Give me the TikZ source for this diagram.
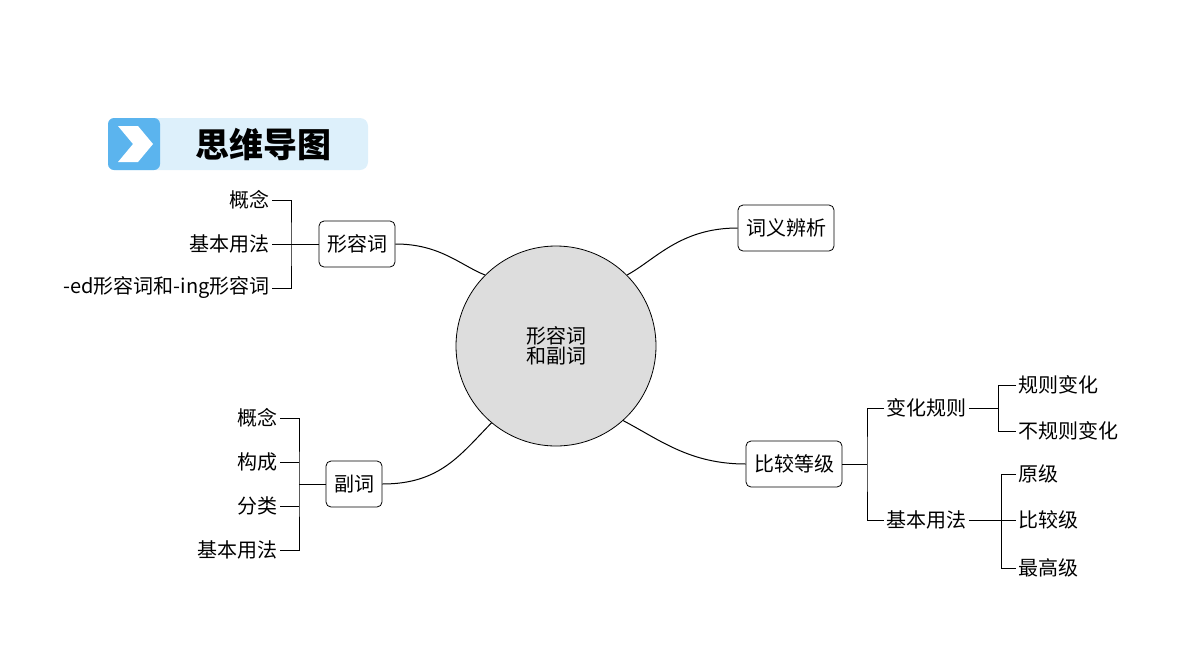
\documentclass[tikz,border=0pt]{standalone}
\usepackage{fontspec}
\setmainfont{Noto Sans CJK SC}
\usepackage{tikz}
\usetikzlibrary{positioning}
\definecolor{badge}{HTML}{DDF0FB}
\definecolor{badgeblue}{HTML}{5BB4EE}
\begin{document}
\begin{tikzpicture}[x=1pt,y=-1pt,thick,
  main node/.style={draw,rounded corners=5pt,fill=white,minimum height=46pt,inner xsep=8pt,font=\fontsize{20}{24}\selectfont},
  leaf/.style={font=\fontsize{20}{24}\selectfont,inner sep=2pt},
  wire/.style={draw,line width=1pt}]
 \useasboundingbox (0,0) rectangle (1200,670);

 % title badge
 \fill[badge,rounded corners=8pt] (108,118) rectangle (368,170);
 \fill[badgeblue,rounded corners=6pt] (108,118) rectangle (160,170);
 \fill[white] (118,126) -- (138,126) -- (153,144) -- (138,162) -- (118,162) -- (133,144) -- cycle;
 \node[font=\fontsize{34}{40}\selectfont\bfseries] (title) at (263,145) {思维导图};

 % centre and branches
 \node[circle,draw,fill=gray!27,minimum size=200pt,align=center,font=\fontsize{20}{24}\selectfont] (c) at (556,346) {形容词\\[-4pt]和副词};
 \node[main node] (adj) at (357,244) {形容词};
 \node[main node] (dis) at (786,228) {词义辨析};
 \node[main node] (adv) at (354,484) {副词};
 \node[main node] (cmp) at (794,464) {比较等级};

 \draw[wire] (c.135) .. controls (460,265) and (440,244) .. (adj.east);
 \draw[wire] (c.45) .. controls (655,260) and (680,228) .. (dis.west);
 \draw[wire] (c.-130) .. controls (460,455) and (440,484) .. (adv.east);
 \draw[wire] (c.-48) .. controls (660,440) and (690,464) .. (cmp.west);

 % 形容词
 \node[leaf,anchor=east] (a1) at (272,200) {概念};
 \node[leaf,anchor=east] (a2) at (272,244) {基本用法};
 \node[leaf,anchor=east] (a3) at (272,288) {-ed形容词和-ing形容词};
 \draw[wire] (a1.east) -| (291,244) |- (a3.east);
 \draw[wire] (a2.east) -- (adj.west);

 % 副词
 \node[leaf,anchor=east] (b1) at (280,418) {概念};
 \node[leaf,anchor=east] (b2) at (280,462) {构成};
 \node[leaf,anchor=east] (b3) at (280,506) {分类};
 \node[leaf,anchor=east] (b4) at (280,550) {基本用法};
 \draw[wire] (b1.east) -| (299,484) |- (b4.east);
 \draw[wire] (b2.east) -- (299,462);
 \draw[wire] (b3.east) -- (299,506);
 \draw[wire] (299,484) -- (adv.west);

 % 比较等级
 \node[leaf,anchor=west] (k1) at (884,408) {变化规则};
 \node[leaf,anchor=west] (k2) at (884,520) {基本用法};
 \draw[wire] (k1.west) -| (867,464) |- (k2.west);
 \draw[wire] (cmp.east) -- (867,464);

 \node[leaf,anchor=west] (r1) at (1016,385) {规则变化};
 \node[leaf,anchor=west] (r2) at (1016,431) {不规则变化};
 \draw[wire] (r1.west) -| (998,408) |- (r2.west);
 \draw[wire] (k1.east) -- (998,408);

 \node[leaf,anchor=west] (g1) at (1016,474) {原级};
 \node[leaf,anchor=west] (g2) at (1016,520) {比较级};
 \node[leaf,anchor=west] (g3) at (1016,568) {最高级};
 \draw[wire] (g1.west) -| (1001,520) |- (g3.west);
 \draw[wire] (k2.east) -- (g2.west);
\end{tikzpicture}
\end{document}
